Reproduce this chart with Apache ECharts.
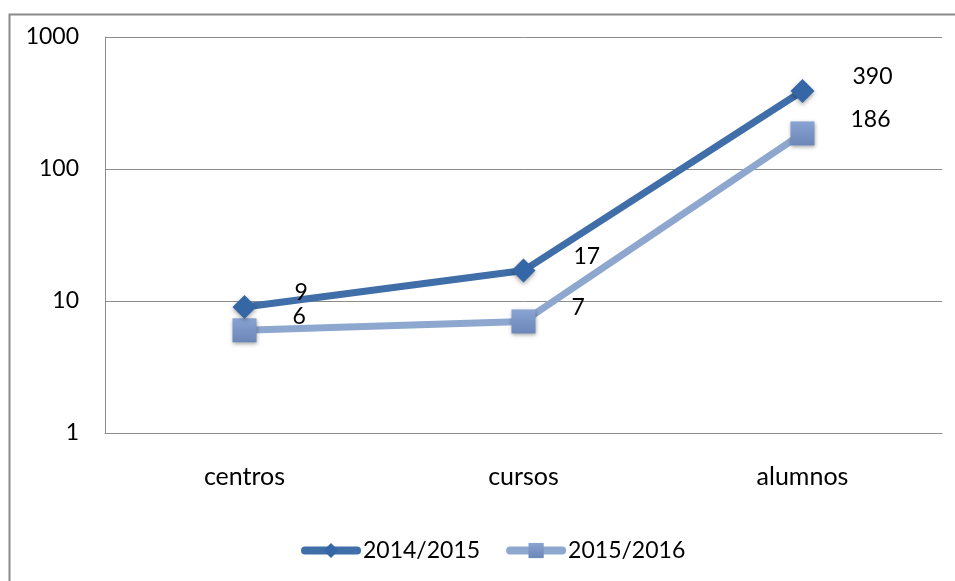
<!DOCTYPE html>
<html>
<head>
<meta charset="utf-8">
<script src="https://cdn.jsdelivr.net/npm/echarts@6/dist/echarts.min.js"></script>
<style>
  html, body { margin: 0; padding: 0; background: #fff; }
  #container { width: 955px; height: 581px; }
</style>
</head>
<body>
<div id="container"></div>
<script>
var categories = ['centros', 'cursos', 'alumnos'];
var serie2014 = [9, 17, 390];
var serie2015 = [6, 7, 186];
var seriesNames = ['2014/2015', '2015/2016'];

var dom = document.getElementById('container');
var myChart = echarts.init(dom);
var font = 'Lato, Liberation Sans, sans-serif';
var fsize = 23;

var option = {
	animation: false,
	graphic: [
		{
			type: 'rect',
			shape: { x: 9.5, y: 14.5, width: 1000, height: 700 },
			style: { fill: 'none', stroke: '#8a8a8a', lineWidth: 2 },
			silent: true
		}
	],
	grid: { left: 105, right: 13, top: 37, bottom: 148 },
	legend: {
		bottom: 14,
		left: 296,
		itemWidth: 52,
		itemHeight: 19,
		itemGap: 26,
		textStyle: { fontFamily: font, fontSize: fsize, color: '#000', padding: [0, 0, 0, 1] },
		data: [
			{ name: seriesNames[0], lineStyle: { width: 8, cap: 'round' } },
			{ name: seriesNames[1], lineStyle: { width: 8, cap: 'round' } }
		]
	},
	xAxis: {
		type: 'category',
		data: categories,
		boundaryGap: true,
		axisLine: { lineStyle: { color: '#8c8c8c', width: 1 } },
		axisTick: { show: false },
		axisLabel: { margin: 31, fontFamily: font, fontSize: 25, color: '#000' }
	},
	yAxis: {
		type: 'log',
		logBase: 10,
		min: 1,
		max: 1000,
		axisLine: { show: true, lineStyle: { color: '#8c8c8c', width: 1 } },
		axisTick: { show: false },
		splitLine: { lineStyle: { color: '#8c8c8c', width: 1 } },
		axisLabel: {
			margin: 26, fontFamily: font, fontSize: fsize, color: '#000',
			formatter: function (v) { return String(Math.round(v)); }
		}
	},
	series: [
		{
			name: seriesNames[0],
			type: 'line',
			data: serie2014,
			symbol: 'diamond',
			symbolSize: 24,
			lineStyle: { color: '#3f6ea8', width: 7 },
			itemStyle: {
				color: '#3566a5',
				shadowColor: 'rgba(0,0,0,0.35)',
				shadowBlur: 4,
				shadowOffsetY: 2
			},
			label: {
				show: true,
				position: 'right',
				distance: 38,
				offset: [0, -14],
				fontFamily: font,
				fontSize: fsize,
				color: '#000'
			},
			z: 3
		},
		{
			name: seriesNames[1],
			type: 'line',
			data: serie2015,
			symbol: 'rect',
			symbolSize: 24,
			lineStyle: { color: '#8ea7cf', width: 7 },
			itemStyle: {
				color: new echarts.graphic.LinearGradient(0, 0, 0, 1, [
					{ offset: 0, color: '#89a4d2' },
					{ offset: 1, color: '#6b86b8' }
				]),
				shadowColor: 'rgba(0,0,0,0.35)',
				shadowBlur: 4,
				shadowOffsetY: 2
			},
			label: {
				show: true,
				position: 'right',
				distance: 36,
				offset: [0, -14],
				fontFamily: font,
				fontSize: fsize,
				color: '#000'
			},
			z: 2
		}
	]
};

if (option && typeof option === 'object') {
	myChart.setOption(option, true);
}
</script>
</body>
</html>
